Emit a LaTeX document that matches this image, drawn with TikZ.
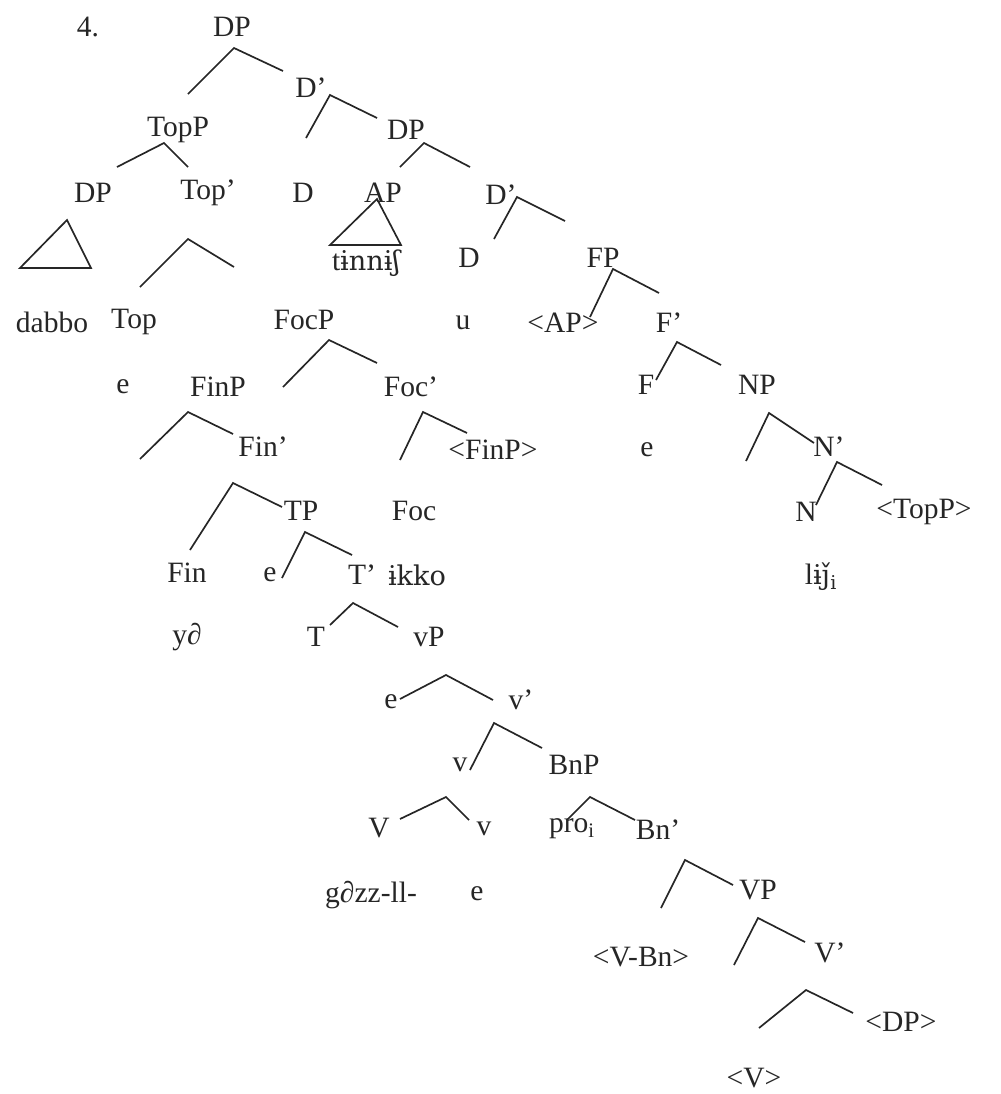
\documentclass[tikz,border=0pt]{standalone}
\usepackage{fontspec}
\setmainfont{Liberation Serif}
\newfontfamily\ipa[Scale=0.92]{DejaVu Serif}

\begin{document}
\begin{tikzpicture}[x=0.025cm,y=-0.025cm,
  lab/.style={inner sep=0pt,text=black!85,font=\fontsize{21}{25}\selectfont},
  br/.style={line width=1.2pt,draw=black!85}]
  \useasboundingbox (0,0) rectangle (1001,1094);
  \foreach \n/\x/\y/\txt in {num/88/27/4., dp0/232/27/DP, dbar0/311/88/D’,
      topp/178/130/TopP, dp1/406/130/DP, dp2/93/193/DP, topbar/208/193/Top’,
      d0/303/193/D, ap/383/193/AP, dbar1/501/195/D’,
      tinnish/366/263/{t\ipa{ɨ}nn\ipa{ɨʃ}}, d1/469/258/D, fp/603/258/FP,
      dabbo/52/322/dabbo, top/134/322/Top, focp/304/320/FocP, u/463/323/u,
      apt/563/323/{<AP>}, fbar/669/323/F’,
      e0/123/387/e, finp/218/387/FinP, focbar/411/387/Foc’, f/646/385/F, np/757/385/NP,
      finbar/263/447/Fin’, finpt/493/450/{<FinP>}, e1/647/450/e, nbar/829/447/N’,
      tp/301/511/TP, foc/414/511/Foc, n/806/512/N, toppt/924/512/{<TopP>},
      fin/187/573/Fin, e2/270/575/e, tbar/362/575/T’, ikko/417/575/{\ipa{ɨ}kko},
      lij/821/577/{l\ipa{ɨǰ}\textsubscript{i}},
      yd/187/637/{y∂}, t/316/637/T, vp/429/637/vP,
      e3/391/702/e, vbar/521/700/v’, v0/460/765/v, bnp/574/765/BnP,
      vv/379/828/V, v1/484/829/v, pro/572/829/{pro\textsubscript{i}}, bnbar/658/830/Bn’,
      gazz/371/895/{g∂zz-ll-}, e4/477/894/e, vpp/758/890/VP,
      vbn/641/957/{<V-Bn>}, vbarr/830/953/V’, dpt/901/1022/{<DP>}, vt/754/1078/{<V>}} {
    \node[lab] (\n) at (\x,\y) {\txt};
  }
  \foreach \n/\lx/\ly/\ax/\ay/\rx/\ry in {b1/188/94/234/48/283/71, b2/306/138/330/95/377/118,
      b3/117/167/164/143/188/167, b4/400/167/424/143/470/167, b5/140/287/188/239/234/267,
      b6/494/239/517/197/565/221, b7/590/317/613/269/659/293, b8/283/387/329/340/377/363,
      b9/140/459/188/412/233/434, b10/400/460/423/412/467/433, b11/656/380/677/342/721/365,
      b12/746/461/769/413/814/443, b13/816/505/837/462/882/485, b14/190/550/233/483/282/507,
      b15/282/578/305/532/352/555, b16/330/625/353/603/398/627, b17/400/699/446/675/493/700,
      b18/470/770/494/723/542/748, b19/400/819/446/797/469/820, b20/567/820/590/797/635/820,
      b21/661/908/685/860/733/885, b22/734/965/758/918/805/942, b23/759/1028/806/990/853/1013} {
    \coordinate (\n-l) at (\lx,\ly);
    \coordinate (\n-a) at (\ax,\ay);
    \coordinate (\n-r) at (\rx,\ry);
    \draw[br] (\n-l) -- (\n-a) -- (\n-r);
  }
  \foreach \n/\ax/\ay/\lx/\rx/\by in {tri1/67/220/20/91/268, tri2/377/199/330/401/245} {
    \coordinate (\n-a) at (\ax,\ay);
    \coordinate (\n-l) at (\lx,\by);
    \coordinate (\n-r) at (\rx,\by);
    \draw[br] (\n-a) -- (\n-l) -- (\n-r) -- cycle;
  }
\end{tikzpicture}
\end{document}
